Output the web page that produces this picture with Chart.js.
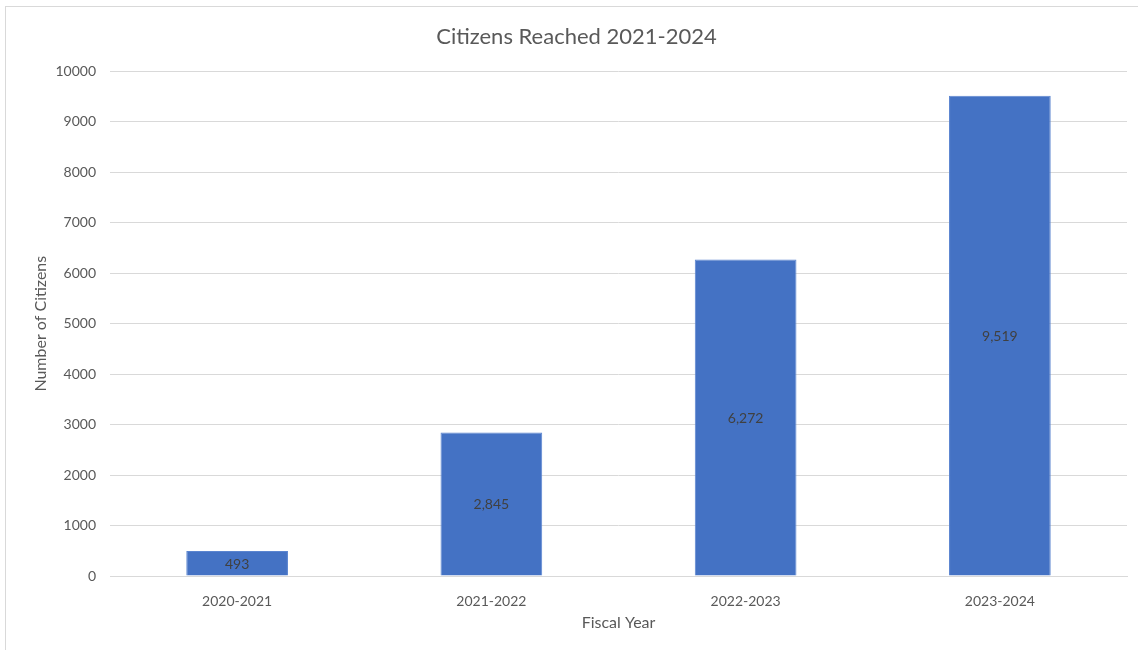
<!DOCTYPE html>
<html>
<head>
<meta charset="utf-8">
<script src="https://cdn.jsdelivr.net/npm/chart.js@4.4.0/dist/chart.umd.min.js"></script>
<style>
  html, body { margin: 0; padding: 0; background: #fff; }
  #wrap { position: relative; width: 1138px; height: 650px; overflow: hidden; }
  #frame { position: absolute; left: 5px; top: 6px; width: 1200px; height: 700px; border-left: 1px solid #d9d9d9; border-top: 1px solid #d9d9d9; }
  canvas { position: absolute; left: 0; top: 0; }
</style>
</head>
<body>
<div id="wrap">
  <div id="frame"></div>
  <canvas id="chart" width="1138" height="650"></canvas>
</div>
<script>
const fiscalYears = ["2020-2021", "2021-2022", "2022-2023", "2023-2024"];
const citizens = [493, 2845, 6272, 9519];
const yMin = 0, yMax = 10000, yStep = 1000;

const fontFamily = "Lato, 'Open Sans', sans-serif";
const textGrey = "#595959";

// draw the value in the middle of each bar
const barLabels = {
  id: "barLabels",
  afterDatasetsDraw(chart) {
    const ctx = chart.ctx;
    const meta = chart.getDatasetMeta(0);
    ctx.save();
    ctx.font = "14px " + fontFamily;
    ctx.fillStyle = "#404040";
    ctx.textAlign = "center";
    ctx.textBaseline = "middle";
    meta.data.forEach((bar, i) => {
      const y = (bar.y + bar.base) / 2;
      ctx.fillText(citizens[i].toLocaleString("en-US"), bar.x, y + 1);
    });
    ctx.restore();
  }
};

const ctx = document.getElementById("chart").getContext("2d");
new Chart(ctx, {
  type: "bar",
  data: {
    labels: fiscalYears,
    datasets: [{
      data: citizens,
      backgroundColor: "#4472c4",
      borderColor: "#5b85d0",
      borderWidth: 1,
      barPercentage: 0.4,
      categoryPercentage: 1.0
    }]
  },
  plugins: [barLabels],
  options: {
    responsive: false,
    animation: false,
    layout: { padding: { left: 26, right: 11, top: 6, bottom: 0 } },
    plugins: {
      legend: { display: false },
      tooltip: { enabled: false },
      title: {
        display: true,
        text: "Citizens Reached 2021-2024",
        color: textGrey,
        font: { family: fontFamily, size: 22, weight: "normal" },
        padding: { top: 18, bottom: 21 }
      }
    },
    scales: {
      x: {
        grid: { display: false, drawTicks: false },
        border: { display: true, color: "#d9d9d9", width: 1 },
        ticks: { color: textGrey, font: { family: fontFamily, size: 14 }, padding: 17 },
        title: {
          display: true,
          text: "Fiscal Year",
          color: textGrey,
          font: { family: fontFamily, size: 16 },
          padding: { top: 4, bottom: 18 }
        },
        afterFit(scale) { scale.height = 74; }
      },
      y: {
        min: yMin,
        max: yMax,
        grid: { color: "#d9d9d9", lineWidth: 1, drawTicks: false },
        border: { display: false },
        ticks: {
          stepSize: yStep,
          color: textGrey,
          font: { family: fontFamily, size: 14 },
          padding: 14,
          callback: v => String(v)
        },
        title: {
          display: true,
          text: "Number of Citizens",
          color: textGrey,
          font: { family: fontFamily, size: 16 },
          padding: { top: 5, bottom: 0 }
        },
        afterFit(scale) { scale.width = 84; }
      }
    }
  }
});
</script>
</body>
</html>
